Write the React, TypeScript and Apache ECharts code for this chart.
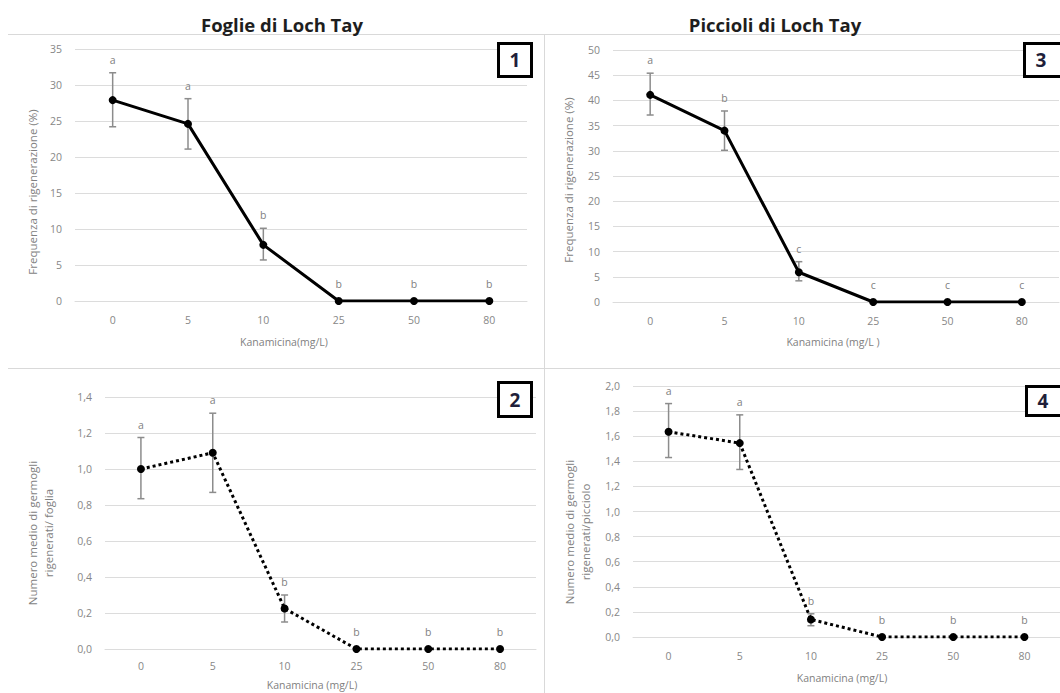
import React, { useEffect, useRef } from "react";
import * as echarts from "echarts";

// ---- data ----
const CATS = ["0", "5", "10", "25", "50", "80"];

// Panel 1: Foglie - frequenza di rigenerazione (%)
const P1_MEAN = [27.9, 24.6, 7.8, 0, 0, 0];
const P1_LO = [24.2, 21.1, 5.7, 0, 0, 0];
const P1_HI = [31.7, 28.1, 10.1, 0, 0, 0];
const P1_LETTERS = ["a", "a", "b", "b", "b", "b"];

// Panel 3: Piccioli - frequenza di rigenerazione (%)
const P3_MEAN = [41.1, 34.0, 5.9, 0, 0, 0];
const P3_LO = [37.1, 30.1, 4.2, 0, 0, 0];
const P3_HI = [45.4, 37.9, 8.0, 0, 0, 0];
const P3_LETTERS = ["a", "b", "c", "c", "c", "c"];

// Panel 2: Foglie - numero medio di germogli
const P2_MEAN = [1.0, 1.09, 0.225, 0, 0, 0];
const P2_LO = [0.835, 0.87, 0.15, 0, 0, 0];
const P2_HI = [1.175, 1.31, 0.3, 0, 0, 0];
const P2_LETTERS = ["a", "a", "b", "b", "b", "b"];

// Panel 4: Piccioli - numero medio di germogli
const P4_MEAN = [1.635, 1.545, 0.14, 0, 0, 0];
const P4_LO = [1.43, 1.335, 0.09, 0, 0, 0];
const P4_HI = [1.86, 1.77, 0.185, 0, 0, 0];
const P4_LETTERS = ["a", "a", "b", "b", "b", "b"];

const TITLES = ["Foglie di Loch Tay", "Piccioli di Loch Tay"];
const X_NAMES = ["Kanamicina(mg/L)", "Kanamicina (mg/L )", "Kanamicina (mg/L)", "Kanamicina (mg/L)"];
const Y_NAMES = [
  "Frequenza di rigenerazione (%)",
  "Frequenza di rigenerazione (%)",
  "Numero medio di germogli\nrigenerati/ foglia",
  "Numero medio di germogli\nrigenerati/picciolo",
];
const PANEL_NUMS = ["1", "3", "2", "4"];

const FONT = "Open Sans";
const GRAY = "#878787";
const GRID_C = "#dcdcdc";

export default function App() {
  const ref = useRef<HTMLDivElement>(null);

  useEffect(() => {
    if (!ref.current) return;
    const chart = echarts.init(ref.current, null, { renderer: "svg" });

    const panels = [
      { mean: P1_MEAN, lo: P1_LO, hi: P1_HI, letters: P1_LETTERS, max: 35, interval: 5, dec: 0, dotted: false,
        grid: { left: 75, top: 49, width: 452, height: 252 }, xMargin: 13 },
      { mean: P3_MEAN, lo: P3_LO, hi: P3_HI, letters: P3_LETTERS, max: 50, interval: 5, dec: 0, dotted: false,
        grid: { left: 613, top: 50, width: 446, height: 252 }, xMargin: 13 },
      { mean: P2_MEAN, lo: P2_LO, hi: P2_HI, letters: P2_LETTERS, max: 1.4, interval: 0.2, dec: 1, dotted: true,
        grid: { left: 105, top: 397, width: 431, height: 252 }, xMargin: 11 },
      { mean: P4_MEAN, lo: P4_LO, hi: P4_HI, letters: P4_LETTERS, max: 2.0, interval: 0.2, dec: 1, dotted: true,
        grid: { left: 633, top: 386, width: 427, height: 251 }, xMargin: 13 },
    ];

    const grids = panels.map((p) => p.grid);
    const xAxes = panels.map((p, i) => ({
      type: "category",
      gridIndex: i,
      data: CATS,
      boundaryGap: true,
      axisLine: { show: true, lineStyle: { color: GRID_C, width: 1 } },
      axisTick: { show: false },
      axisLabel: { color: GRAY, fontSize: 10.5, fontFamily: FONT, margin: p.xMargin },
    }));
    const yAxes = panels.map((p, i) => ({
      type: "value",
      gridIndex: i,
      min: 0,
      max: p.max,
      interval: p.interval,
      axisLine: { show: false },
      axisTick: { show: false },
      splitLine: { show: true, lineStyle: { color: GRID_C, width: 1 } },
      axisLabel: {
        color: GRAY,
        fontSize: 10.5,
        fontFamily: FONT,
        margin: 13,
        formatter: (v: number) => v.toFixed(p.dec).replace(".", ","),
      },
    }));

    const series: any[] = [];
    panels.forEach((p, i) => {
      series.push({
        type: "custom",
        xAxisIndex: i,
        yAxisIndex: i,
        z: 1,
        silent: true,
        data: CATS.map((c, k) => [k, p.lo[k], p.hi[k]]),
        encode: { x: 0, y: [1, 2] },
        renderItem: (params: any, api: any) => {
          const k = api.value(0);
          const lo = api.value(1);
          const hi = api.value(2);
          const top = api.coord([k, hi]);
          const bot = api.coord([k, lo]);
          const children: any[] = [];
          const st = { stroke: "#8c8c8c", lineWidth: 1.5 };
          if (hi > lo) {
            children.push({ type: "line", shape: { x1: top[0], y1: top[1], x2: bot[0], y2: bot[1] }, style: st });
            children.push({ type: "line", shape: { x1: top[0] - 3.5, y1: top[1], x2: top[0] + 3.5, y2: top[1] }, style: st });
            children.push({ type: "line", shape: { x1: bot[0] - 3.5, y1: bot[1], x2: bot[0] + 3.5, y2: bot[1] }, style: st });
          }
          children.push({
            type: "text",
            x: top[0],
            y: top[1] - (hi > lo ? 13 : 17),
            style: {
              text: p.letters[params.dataIndex],
              align: "center",
              verticalAlign: "middle",
              fill: "#7f7f7f",
              fontSize: 10.5,
              fontFamily: FONT,
            },
          });
          return { type: "group", children };
        },
      });
      series.push({
        type: "line",
        xAxisIndex: i,
        yAxisIndex: i,
        z: 3,
        data: p.mean,
        symbol: "circle",
        symbolSize: 8,
        itemStyle: { color: "#000" },
        lineStyle: { color: "#000", width: 3, type: p.dotted ? [3, 3] : "solid" },
      });
    });

    const sep = { stroke: "#d9d9d9", lineWidth: 1 };
    const graphic: any[] = [
      { type: "line", shape: { x1: 8, y1: 34.5, x2: 1060, y2: 34.5 }, style: sep, z: 0 },
      { type: "line", shape: { x1: 8, y1: 368.5, x2: 1060, y2: 368.5 }, style: sep, z: 0 },
      { type: "line", shape: { x1: 544.5, y1: 34, x2: 544.5, y2: 693 }, style: sep, z: 0 },
      // titles
      { type: "text", x: 282, y: 24, style: { text: TITLES[0], align: "center", verticalAlign: "middle", fill: "#1e1e1e", fontSize: 18.5, fontWeight: "bold", fontFamily: FONT } },
      { type: "text", x: 775, y: 24, style: { text: TITLES[1], align: "center", verticalAlign: "middle", fill: "#1e1e1e", fontSize: 18.5, fontWeight: "bold", fontFamily: FONT } },
    ];

    // axis names
    const xNamePos = [[284, 342], [833, 342], [312, 685], [842, 678]];
    const yNamePos = [[32, 192], [568, 180], [40, 533], [577, 532]];
    X_NAMES.forEach((t, i) => {
      graphic.push({ type: "text", x: xNamePos[i][0], y: xNamePos[i][1],
        style: { text: t, align: "center", verticalAlign: "middle", fill: "#7f7f7f", fontSize: 10.5, fontFamily: FONT } });
    });
    Y_NAMES.forEach((t, i) => {
      graphic.push({ type: "text", x: yNamePos[i][0], y: yNamePos[i][1], rotation: Math.PI / 2,
        style: { text: t, align: "center", verticalAlign: "middle", fill: "#7f7f7f", fontSize: 11.5, lineHeight: 16, fontFamily: FONT } });
    });

    // number boxes
    const boxes = [
      { x: 497, y: 42, w: 36, h: 36 },
      { x: 1023, y: 42, w: 44, h: 36 },
      { x: 497, y: 381, w: 36, h: 37 },
      { x: 1025, y: 385, w: 44, h: 32 },
    ];
    boxes.forEach((b, i) => {
      graphic.push({ type: "rect", z: 10, shape: { x: b.x + 1.5, y: b.y + 1.5, width: b.w - 3, height: b.h - 3 },
        style: { fill: "#fff", stroke: "#000", lineWidth: 3 } });
      graphic.push({ type: "text", z: 11, x: i % 2 === 1 ? b.x + 18 : b.x + b.w / 2, y: b.y + b.h / 2,
        style: { text: PANEL_NUMS[i], align: "center", verticalAlign: "middle", fill: "#1f1f3a", fontSize: 19, fontWeight: "bold", fontFamily: FONT } });
    });

    chart.setOption({
      animation: false,
      backgroundColor: "#fff",
      grid: grids,
      xAxis: xAxes,
      yAxis: yAxes,
      series,
      graphic,
    });

    return () => chart.dispose();
  }, []);

  return (
    <div
      ref={ref}
      style={{ position: "fixed", left: 0, top: 0, width: 1060, height: 693, background: "#fff" }}
    />
  );
}
